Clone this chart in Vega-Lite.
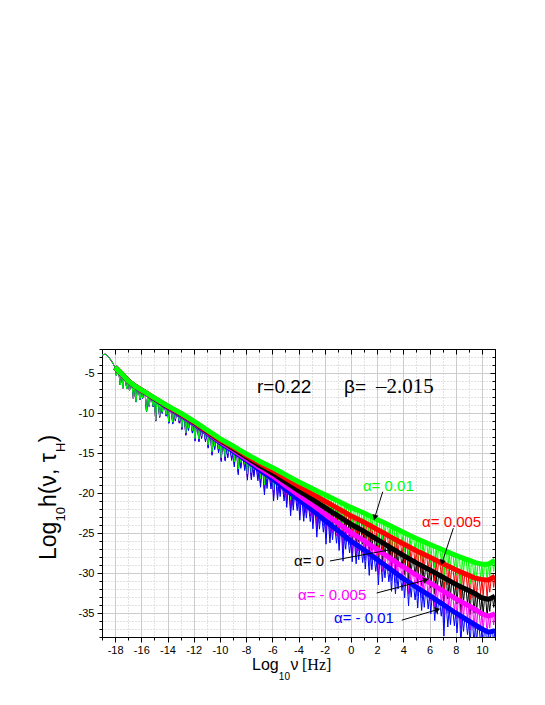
{
"$schema": "https://vega.github.io/schema/vega-lite/v6.json",
"width": 393, "height": 288,
"autosize": "none",
"padding": {"left": 102, "top": 349, "right": 50, "bottom": 68},
"background": "white",
"config": {"view": {"stroke": "black", "strokeWidth": 1}, "font": "Liberation Sans", "axis": {"labelFont": "Liberation Sans"}},
"datasets": {
"curves": [
{"x":-19,"p":0,"s5":-2.75,"s4":-2.75,"s3":-2.75,"s2":-2.75,"s1":-2.75},
{"x":-18.75,"p":0,"s5":-2.65,"s4":-2.65,"s3":-2.65,"s2":-2.65,"s1":-2.65},
{"x":-18.5,"p":0,"s5":-3.0,"s4":-3.0,"s3":-3.0,"s2":-3.0,"s1":-3.0},
{"x":-18.25,"p":0,"s5":-3.55,"s4":-3.55,"s3":-3.55,"s2":-3.55,"s1":-3.55},
{"x":-18,"p":0,"s5":-4.3,"s4":-4.3,"s3":-4.3,"s2":-4.3,"s1":-4.3},
{"x":-17.9,"p":1,"s5":-5.3,"s4":-5.3,"s3":-5.3,"s2":-5.3,"s1":-5.3},
{"x":-17.8,"p":2,"s5":-4.3,"s4":-4.3,"s3":-4.3,"s2":-4.3,"s1":-4.3},
{"x":-17.7,"p":2,"s5":-5.1,"s4":-5.1,"s3":-5.1,"s2":-5.1,"s1":-5.1},
{"x":-17.6,"p":1,"s5":-6.5,"s4":-6.5,"s3":-6.5,"s2":-6.5,"s1":-6.5},
{"x":-17.5,"p":0,"s5":-5.1,"s4":-5.1,"s3":-5.1,"s2":-5.1,"s1":-5.1},
{"x":-17.4,"p":1,"s5":-6.9,"s4":-6.9,"s3":-6.9,"s2":-6.9,"s1":-6.9},
{"x":-17.3,"p":2,"s5":-5.1,"s4":-5.1,"s3":-5.1,"s2":-5.1,"s1":-5.1},
{"x":-17.2,"p":2,"s5":-6.0,"s4":-6.0,"s3":-6.0,"s2":-6.0,"s1":-6.0},
{"x":-17.1,"p":1,"s5":-7.0,"s4":-7.0,"s3":-7.0,"s2":-7.0,"s1":-7.0},
{"x":-17,"p":0,"s5":-6.0,"s4":-6.0,"s3":-6.0,"s2":-6.0,"s1":-6.0},
{"x":-16.9,"p":1,"s5":-7.2,"s4":-7.2,"s3":-7.2,"s2":-7.2,"s1":-7.2},
{"x":-16.8,"p":2,"s5":-6.0,"s4":-6.0,"s3":-6.0,"s2":-6.0,"s1":-6.0},
{"x":-16.7,"p":2,"s5":-6.6,"s4":-6.61,"s3":-6.62,"s2":-6.63,"s1":-6.64},
{"x":-16.6,"p":1,"s5":-8.2,"s4":-8.21,"s3":-8.22,"s2":-8.23,"s1":-8.24},
{"x":-16.5,"p":0,"s5":-6.6,"s4":-6.61,"s3":-6.62,"s2":-6.63,"s1":-6.64},
{"x":-16.4,"p":1,"s5":-8.6,"s4":-8.61,"s3":-8.62,"s2":-8.63,"s1":-8.64},
{"x":-16.3,"p":2,"s5":-6.6,"s4":-6.61,"s3":-6.62,"s2":-6.63,"s1":-6.64},
{"x":-16.2,"p":2,"s5":-7.1,"s4":-7.12,"s3":-7.14,"s2":-7.16,"s1":-7.18},
{"x":-16.1,"p":1,"s5":-8.3,"s4":-8.32,"s3":-8.34,"s2":-8.36,"s1":-8.38},
{"x":-16,"p":0,"s5":-7.1,"s4":-7.12,"s3":-7.14,"s2":-7.16,"s1":-7.18},
{"x":-15.9,"p":1,"s5":-8.1,"s4":-8.12,"s3":-8.14,"s2":-8.16,"s1":-8.18},
{"x":-15.8,"p":2,"s5":-7.1,"s4":-7.12,"s3":-7.14,"s2":-7.16,"s1":-7.18},
{"x":-15.7,"p":2,"s5":-7.6,"s4":-7.62,"s3":-7.64,"s2":-7.66,"s1":-7.68},
{"x":-15.6,"p":1,"s5":-9.8,"s4":-9.82,"s3":-9.84,"s2":-9.86,"s1":-9.88},
{"x":-15.5,"p":0,"s5":-7.6,"s4":-7.62,"s3":-7.64,"s2":-7.66,"s1":-7.68},
{"x":-15.4,"p":1,"s5":-9.1,"s4":-9.12,"s3":-9.14,"s2":-9.16,"s1":-9.18},
{"x":-15.3,"p":2,"s5":-7.6,"s4":-7.62,"s3":-7.64,"s2":-7.66,"s1":-7.68},
{"x":-15.2,"p":2,"s5":-8.1,"s4":-8.13,"s3":-8.16,"s2":-8.19,"s1":-8.22},
{"x":-15.1,"p":1,"s5":-9.1,"s4":-9.13,"s3":-9.16,"s2":-9.19,"s1":-9.22},
{"x":-15,"p":0,"s5":-8.1,"s4":-8.13,"s3":-8.16,"s2":-8.19,"s1":-8.22},
{"x":-14.9,"p":1,"s5":-10.9,"s4":-10.93,"s3":-10.96,"s2":-10.99,"s1":-11.02},
{"x":-14.8,"p":2,"s5":-8.1,"s4":-8.13,"s3":-8.16,"s2":-8.19,"s1":-8.22},
{"x":-14.7,"p":2,"s5":-8.6,"s4":-8.64,"s3":-8.68,"s2":-8.72,"s1":-8.76},
{"x":-14.6,"p":1,"s5":-10.4,"s4":-10.44,"s3":-10.48,"s2":-10.52,"s1":-10.56},
{"x":-14.5,"p":0,"s5":-8.6,"s4":-8.64,"s3":-8.68,"s2":-8.72,"s1":-8.76},
{"x":-14.4,"p":1,"s5":-9.9,"s4":-9.94,"s3":-9.98,"s2":-10.02,"s1":-10.06},
{"x":-14.3,"p":2,"s5":-8.6,"s4":-8.64,"s3":-8.68,"s2":-8.72,"s1":-8.76},
{"x":-14.2,"p":2,"s5":-9.1,"s4":-9.15,"s3":-9.2,"s2":-9.25,"s1":-9.3},
{"x":-14.1,"p":1,"s5":-10.2,"s4":-10.25,"s3":-10.3,"s2":-10.35,"s1":-10.4},
{"x":-14,"p":0,"s5":-9.1,"s4":-9.15,"s3":-9.2,"s2":-9.25,"s1":-9.3},
{"x":-13.9,"p":1,"s5":-11.1,"s4":-11.15,"s3":-11.2,"s2":-11.25,"s1":-11.3},
{"x":-13.8,"p":2,"s5":-9.1,"s4":-9.15,"s3":-9.2,"s2":-9.25,"s1":-9.3},
{"x":-13.7,"p":2,"s5":-9.55,"s4":-9.61,"s3":-9.67,"s2":-9.73,"s1":-9.79},
{"x":-13.6,"p":1,"s5":-11.15,"s4":-11.21,"s3":-11.27,"s2":-11.33,"s1":-11.39},
{"x":-13.5,"p":0,"s5":-9.55,"s4":-9.61,"s3":-9.67,"s2":-9.73,"s1":-9.79},
{"x":-13.4,"p":1,"s5":-10.75,"s4":-10.81,"s3":-10.87,"s2":-10.93,"s1":-10.99},
{"x":-13.3,"p":2,"s5":-9.55,"s4":-9.61,"s3":-9.67,"s2":-9.73,"s1":-9.79},
{"x":-13.2,"p":2,"s5":-10,"s4":-10.07,"s3":-10.14,"s2":-10.21,"s1":-10.28},
{"x":-13.1,"p":1,"s5":-11,"s4":-11.07,"s3":-11.14,"s2":-11.21,"s1":-11.28},
{"x":-13,"p":0,"s5":-10,"s4":-10.07,"s3":-10.14,"s2":-10.21,"s1":-10.28},
{"x":-12.9,"p":1,"s5":-11.8,"s4":-11.87,"s3":-11.94,"s2":-12.01,"s1":-12.08},
{"x":-12.8,"p":2,"s5":-10,"s4":-10.07,"s3":-10.14,"s2":-10.21,"s1":-10.28},
{"x":-12.7,"p":2,"s5":-10.5,"s4":-10.58,"s3":-10.65,"s2":-10.73,"s1":-10.8},
{"x":-12.6,"p":1,"s5":-12.5,"s4":-12.58,"s3":-12.65,"s2":-12.73,"s1":-12.8},
{"x":-12.5,"p":0,"s5":-10.5,"s4":-10.58,"s3":-10.65,"s2":-10.73,"s1":-10.8},
{"x":-12.4,"p":1,"s5":-11.9,"s4":-11.98,"s3":-12.05,"s2":-12.13,"s1":-12.2},
{"x":-12.3,"p":2,"s5":-10.5,"s4":-10.58,"s3":-10.65,"s2":-10.73,"s1":-10.8},
{"x":-12.2,"p":2,"s5":-11,"s4":-11.08,"s3":-11.16,"s2":-11.24,"s1":-11.32},
{"x":-12.1,"p":1,"s5":-12.2,"s4":-12.28,"s3":-12.36,"s2":-12.44,"s1":-12.52},
{"x":-12,"p":0,"s5":-11,"s4":-11.08,"s3":-11.16,"s2":-11.24,"s1":-11.32},
{"x":-11.9,"p":1,"s5":-13.2,"s4":-13.28,"s3":-13.36,"s2":-13.44,"s1":-13.52},
{"x":-11.8,"p":2,"s5":-11,"s4":-11.08,"s3":-11.16,"s2":-11.24,"s1":-11.32},
{"x":-11.7,"p":2,"s5":-11.55,"s4":-11.64,"s3":-11.73,"s2":-11.82,"s1":-11.91},
{"x":-11.6,"p":1,"s5":-13.25,"s4":-13.34,"s3":-13.43,"s2":-13.52,"s1":-13.61},
{"x":-11.5,"p":0,"s5":-11.55,"s4":-11.64,"s3":-11.73,"s2":-11.82,"s1":-11.91},
{"x":-11.4,"p":1,"s5":-12.85,"s4":-12.94,"s3":-13.03,"s2":-13.12,"s1":-13.21},
{"x":-11.3,"p":2,"s5":-11.55,"s4":-11.64,"s3":-11.73,"s2":-11.82,"s1":-11.91},
{"x":-11.2,"p":2,"s5":-12.1,"s4":-12.2,"s3":-12.3,"s2":-12.4,"s1":-12.5},
{"x":-11.1,"p":1,"s5":-13.2,"s4":-13.3,"s3":-13.4,"s2":-13.5,"s1":-13.6},
{"x":-11,"p":0,"s5":-12.1,"s4":-12.2,"s3":-12.3,"s2":-12.4,"s1":-12.5},
{"x":-10.9,"p":1,"s5":-14,"s4":-14.1,"s3":-14.2,"s2":-14.3,"s1":-14.4},
{"x":-10.8,"p":2,"s5":-12.1,"s4":-12.2,"s3":-12.3,"s2":-12.4,"s1":-12.5},
{"x":-10.7,"p":2,"s5":-12.65,"s4":-12.76,"s3":-12.87,"s2":-12.98,"s1":-13.09},
{"x":-10.6,"p":1,"s5":-14.85,"s4":-14.96,"s3":-15.07,"s2":-15.18,"s1":-15.29},
{"x":-10.5,"p":0,"s5":-12.65,"s4":-12.76,"s3":-12.87,"s2":-12.98,"s1":-13.09},
{"x":-10.4,"p":1,"s5":-14.15,"s4":-14.26,"s3":-14.37,"s2":-14.48,"s1":-14.59},
{"x":-10.3,"p":2,"s5":-12.65,"s4":-12.76,"s3":-12.87,"s2":-12.98,"s1":-13.09},
{"x":-10.2,"p":2,"s5":-13.2,"s4":-13.32,"s3":-13.44,"s2":-13.56,"s1":-13.68},
{"x":-10.1,"p":1,"s5":-14.5,"s4":-14.62,"s3":-14.74,"s2":-14.86,"s1":-14.98},
{"x":-10,"p":0,"s5":-13.2,"s4":-13.32,"s3":-13.44,"s2":-13.56,"s1":-13.68},
{"x":-9.9,"p":1,"s5":-15.6,"s4":-15.72,"s3":-15.84,"s2":-15.96,"s1":-16.08},
{"x":-9.8,"p":2,"s5":-13.2,"s4":-13.32,"s3":-13.44,"s2":-13.56,"s1":-13.68},
{"x":-9.7,"p":2,"s5":-13.65,"s4":-13.79,"s3":-13.93,"s2":-14.07,"s1":-14.21},
{"x":-9.6,"p":1,"s5":-15.45,"s4":-15.59,"s3":-15.73,"s2":-15.87,"s1":-16.01},
{"x":-9.5,"p":0,"s5":-13.65,"s4":-13.79,"s3":-13.93,"s2":-14.07,"s1":-14.21},
{"x":-9.4,"p":1,"s5":-15.05,"s4":-15.19,"s3":-15.33,"s2":-15.47,"s1":-15.61},
{"x":-9.3,"p":2,"s5":-13.65,"s4":-13.79,"s3":-13.93,"s2":-14.07,"s1":-14.21},
{"x":-9.2,"p":2,"s5":-14.1,"s4":-14.26,"s3":-14.42,"s2":-14.58,"s1":-14.74},
{"x":-9.1,"p":1,"s5":-15.3,"s4":-15.46,"s3":-15.62,"s2":-15.78,"s1":-15.94},
{"x":-9,"p":0,"s5":-14.1,"s4":-14.26,"s3":-14.42,"s2":-14.58,"s1":-14.74},
{"x":-8.9,"p":1,"s5":-16.1,"s4":-16.26,"s3":-16.42,"s2":-16.58,"s1":-16.74},
{"x":-8.8,"p":2,"s5":-14.1,"s4":-14.26,"s3":-14.42,"s2":-14.58,"s1":-14.74},
{"x":-8.7,"p":2,"s5":-14.6,"s4":-14.78,"s3":-14.96,"s2":-15.14,"s1":-15.32},
{"x":-8.6,"p":1,"s5":-17,"s4":-17.18,"s3":-17.36,"s2":-17.54,"s1":-17.72},
{"x":-8.5,"p":0,"s5":-14.6,"s4":-14.78,"s3":-14.96,"s2":-15.14,"s1":-15.32},
{"x":-8.4,"p":1,"s5":-16.2,"s4":-16.38,"s3":-16.56,"s2":-16.74,"s1":-16.92},
{"x":-8.3,"p":2,"s5":-14.6,"s4":-14.78,"s3":-14.96,"s2":-15.14,"s1":-15.32},
{"x":-8.2,"p":2,"s5":-15.1,"s4":-15.3,"s3":-15.5,"s2":-15.7,"s1":-15.9},
{"x":-8.1,"p":1,"s5":-16.4,"s4":-16.6,"s3":-16.8,"s2":-17,"s1":-17.2},
{"x":-8,"p":0,"s5":-15.1,"s4":-15.3,"s3":-15.5,"s2":-15.7,"s1":-15.9},
{"x":-7.9,"p":1,"s5":-17.6,"s4":-17.8,"s3":-18,"s2":-18.2,"s1":-18.4},
{"x":-7.8,"p":2,"s5":-15.1,"s4":-15.3,"s3":-15.5,"s2":-15.7,"s1":-15.9},
{"x":-7.7,"p":2,"s5":-15.55,"s4":-15.78,"s3":-16.01,"s2":-16.24,"s1":-16.47},
{"x":-7.6,"p":1,"s5":-17.45,"s4":-17.68,"s3":-17.91,"s2":-18.14,"s1":-18.37},
{"x":-7.5,"p":0,"s5":-15.55,"s4":-15.78,"s3":-16.01,"s2":-16.24,"s1":-16.47},
{"x":-7.4,"p":1,"s5":-17.05,"s4":-17.28,"s3":-17.51,"s2":-17.74,"s1":-17.97},
{"x":-7.3,"p":2,"s5":-15.55,"s4":-15.78,"s3":-16.01,"s2":-16.24,"s1":-16.47},
{"x":-7.2,"p":2,"s5":-16,"s4":-16.27,"s3":-16.54,"s2":-16.81,"s1":-17.08},
{"x":-7.1,"p":1,"s5":-17.4,"s4":-17.67,"s3":-17.94,"s2":-18.21,"s1":-18.48},
{"x":-7,"p":0,"s5":-16,"s4":-16.27,"s3":-16.54,"s2":-16.81,"s1":-17.08},
{"x":-6.9,"p":1,"s5":-18.2,"s4":-18.47,"s3":-18.74,"s2":-19.01,"s1":-19.28},
{"x":-6.8,"p":2,"s5":-16,"s4":-16.27,"s3":-16.54,"s2":-16.81,"s1":-17.08},
{"x":-6.7,"p":2,"s5":-16.4,"s4":-16.71,"s3":-17.02,"s2":-17.33,"s1":-17.64},
{"x":-6.6,"p":1,"s5":-19,"s4":-19.31,"s3":-19.62,"s2":-19.93,"s1":-20.24},
{"x":-6.5,"p":0,"s5":-16.4,"s4":-16.71,"s3":-17.02,"s2":-17.33,"s1":-17.64},
{"x":-6.4,"p":1,"s5":-18.2,"s4":-18.51,"s3":-18.82,"s2":-19.13,"s1":-19.44},
{"x":-6.3,"p":2,"s5":-16.4,"s4":-16.71,"s3":-17.02,"s2":-17.33,"s1":-17.64},
{"x":-6.2,"p":2,"s5":-16.8,"s4":-17.15,"s3":-17.5,"s2":-17.85,"s1":-18.2},
{"x":-6.1,"p":1,"s5":-18.1,"s4":-18.45,"s3":-18.8,"s2":-19.15,"s1":-19.5},
{"x":-6,"p":0,"s5":-16.8,"s4":-17.15,"s3":-17.5,"s2":-17.85,"s1":-18.2},
{"x":-5.9,"p":1,"s5":-19.6,"s4":-19.95,"s3":-20.3,"s2":-20.65,"s1":-21},
{"x":-5.8,"p":2,"s5":-16.8,"s4":-17.15,"s3":-17.5,"s2":-17.85,"s1":-18.2},
{"x":-5.7,"p":2,"s5":-17.25,"s4":-17.65,"s3":-18.05,"s2":-18.45,"s1":-18.85},
{"x":-5.6,"p":1,"s5":-19.25,"s4":-19.65,"s3":-20.05,"s2":-20.45,"s1":-20.85},
{"x":-5.5,"p":0,"s5":-17.25,"s4":-17.65,"s3":-18.05,"s2":-18.45,"s1":-18.85},
{"x":-5.4,"p":1,"s5":-18.85,"s4":-19.25,"s3":-19.65,"s2":-20.05,"s1":-20.45},
{"x":-5.3,"p":2,"s5":-17.25,"s4":-17.65,"s3":-18.05,"s2":-18.45,"s1":-18.85},
{"x":-5.2,"p":2,"s5":-17.7,"s4":-18.15,"s3":-18.6,"s2":-19.05,"s1":-19.5},
{"x":-5.1,"p":1,"s5":-19.2,"s4":-19.65,"s3":-20.1,"s2":-20.55,"s1":-21},
{"x":-5,"p":0,"s5":-17.7,"s4":-18.15,"s3":-18.6,"s2":-19.05,"s1":-19.5},
{"x":-4.9,"p":1,"s5":-20,"s4":-20.45,"s3":-20.9,"s2":-21.35,"s1":-21.8},
{"x":-4.8,"p":2,"s5":-17.7,"s4":-18.15,"s3":-18.6,"s2":-19.05,"s1":-19.5},
{"x":-4.7,"p":2,"s5":-18.15,"s4":-18.65,"s3":-19.15,"s2":-19.65,"s1":-20.15},
{"x":-4.6,"p":1,"s5":-20.85,"s4":-21.35,"s3":-21.85,"s2":-22.35,"s1":-22.85},
{"x":-4.5,"p":0,"s5":-18.15,"s4":-18.65,"s3":-19.15,"s2":-19.65,"s1":-20.15},
{"x":-4.4,"p":1,"s5":-20.15,"s4":-20.65,"s3":-21.15,"s2":-21.65,"s1":-22.15},
{"x":-4.3,"p":2,"s5":-18.15,"s4":-18.65,"s3":-19.15,"s2":-19.65,"s1":-20.15},
{"x":-4.2,"p":2,"s5":-18.6,"s4":-19.15,"s3":-19.7,"s2":-20.25,"s1":-20.8},
{"x":-4.1,"p":1,"s5":-20,"s4":-20.55,"s3":-21.1,"s2":-21.65,"s1":-22.2},
{"x":-4,"p":0,"s5":-18.6,"s4":-19.15,"s3":-19.7,"s2":-20.25,"s1":-20.8},
{"x":-3.9,"p":1,"s5":-21.2,"s4":-21.75,"s3":-22.3,"s2":-22.85,"s1":-23.4},
{"x":-3.8,"p":2,"s5":-18.6,"s4":-19.15,"s3":-19.7,"s2":-20.25,"s1":-20.8},
{"x":-3.7,"p":2,"s5":-19,"s4":-19.61,"s3":-20.22,"s2":-20.83,"s1":-21.44},
{"x":-3.6,"p":1,"s5":-21.1,"s4":-21.71,"s3":-22.32,"s2":-22.93,"s1":-23.54},
{"x":-3.5,"p":0,"s5":-19,"s4":-19.61,"s3":-20.22,"s2":-20.83,"s1":-21.44},
{"x":-3.4,"p":1,"s5":-20.7,"s4":-21.31,"s3":-21.92,"s2":-22.53,"s1":-23.14},
{"x":-3.3,"p":2,"s5":-19,"s4":-19.61,"s3":-20.22,"s2":-20.83,"s1":-21.44},
{"x":-3.2,"p":2,"s5":-19.4,"s4":-20.07,"s3":-20.74,"s2":-21.41,"s1":-22.08},
{"x":-3.1,"p":1,"s5":-20.9,"s4":-21.57,"s3":-22.24,"s2":-22.91,"s1":-23.58},
{"x":-3,"p":0,"s5":-19.4,"s4":-20.07,"s3":-20.74,"s2":-21.41,"s1":-22.08},
{"x":-2.9,"p":1,"s5":-21.8,"s4":-22.47,"s3":-23.14,"s2":-23.81,"s1":-24.48},
{"x":-2.8,"p":2,"s5":-19.4,"s4":-20.07,"s3":-20.74,"s2":-21.41,"s1":-22.08},
{"x":-2.7,"p":2,"s5":-19.8,"s4":-20.53,"s3":-21.26,"s2":-21.99,"s1":-22.72},
{"x":-2.6,"p":1,"s5":-22.6,"s4":-23.33,"s3":-24.06,"s2":-24.79,"s1":-25.52},
{"x":-2.5,"p":0,"s5":-19.8,"s4":-20.53,"s3":-21.26,"s2":-21.99,"s1":-22.72},
{"x":-2.4,"p":1,"s5":-21.6,"s4":-22.33,"s3":-23.06,"s2":-23.79,"s1":-24.52},
{"x":-2.3,"p":2,"s5":-19.8,"s4":-20.53,"s3":-21.26,"s2":-21.99,"s1":-22.72},
{"x":-2.2,"p":2,"s5":-20.2,"s4":-21,"s3":-21.8,"s2":-22.6,"s1":-23.4},
{"x":-2.1,"p":1,"s5":-21.7,"s4":-22.5,"s3":-23.3,"s2":-24.1,"s1":-24.9},
{"x":-2,"p":0,"s5":-20.2,"s4":-21,"s3":-21.8,"s2":-22.6,"s1":-23.4},
{"x":-1.9,"p":1,"s5":-23.2,"s4":-24,"s3":-24.8,"s2":-25.6,"s1":-26.4},
{"x":-1.8,"p":2,"s5":-20.2,"s4":-21,"s3":-21.8,"s2":-22.6,"s1":-23.4},
{"x":-1.7,"p":2,"s5":-20.6,"s4":-21.46,"s3":-22.32,"s2":-23.18,"s1":-24.04},
{"x":-1.6,"p":1,"s5":-22.8,"s4":-23.66,"s3":-24.52,"s2":-25.38,"s1":-26.24},
{"x":-1.5,"p":0,"s5":-20.6,"s4":-21.46,"s3":-22.32,"s2":-23.18,"s1":-24.04},
{"x":-1.4,"p":1,"s5":-22.4,"s4":-23.26,"s3":-24.12,"s2":-24.98,"s1":-25.84},
{"x":-1.3,"p":2,"s5":-20.6,"s4":-21.46,"s3":-22.32,"s2":-23.18,"s1":-24.04},
{"x":-1.2,"p":2,"s5":-21,"s4":-21.92,"s3":-22.84,"s2":-23.76,"s1":-24.68},
{"x":-1.1,"p":1,"s5":-22.6,"s4":-23.52,"s3":-24.44,"s2":-25.36,"s1":-26.28},
{"x":-1,"p":0,"s5":-21,"s4":-21.92,"s3":-22.84,"s2":-23.76,"s1":-24.68},
{"x":-0.9,"p":1,"s5":-23.5,"s4":-24.42,"s3":-25.34,"s2":-26.26,"s1":-27.18},
{"x":-0.8,"p":2,"s5":-21,"s4":-21.92,"s3":-22.84,"s2":-23.76,"s1":-24.68},
{"x":-0.7,"p":2,"s5":-21.4,"s4":-22.38,"s3":-23.36,"s2":-24.34,"s1":-25.32},
{"x":-0.6,"p":1,"s5":-24.6,"s4":-25.58,"s3":-26.56,"s2":-27.54,"s1":-28.52},
{"x":-0.5,"p":0,"s5":-21.4,"s4":-22.38,"s3":-23.36,"s2":-24.34,"s1":-25.32},
{"x":-0.4,"p":1,"s5":-23.1,"s4":-24.08,"s3":-25.06,"s2":-26.04,"s1":-27.02},
{"x":-0.3,"p":2,"s5":-21.4,"s4":-22.38,"s3":-23.36,"s2":-24.34,"s1":-25.32},
{"x":-0.2,"p":2,"s5":-21.8,"s4":-22.85,"s3":-23.9,"s2":-24.95,"s1":-26},
{"x":-0.1,"p":1,"s5":-23.3,"s4":-24.35,"s3":-25.4,"s2":-26.45,"s1":-27.5},
{"x":0,"p":0,"s5":-21.8,"s4":-22.85,"s3":-23.9,"s2":-24.95,"s1":-26},
{"x":0.1,"p":1,"s5":-24.4,"s4":-25.45,"s3":-26.5,"s2":-27.55,"s1":-28.6},
{"x":0.2,"p":2,"s5":-21.8,"s4":-22.85,"s3":-23.9,"s2":-24.95,"s1":-26},
{"x":0.3,"p":2,"s5":-22.15,"s4":-23.25,"s3":-24.35,"s2":-25.45,"s1":-26.55},
{"x":0.4,"p":1,"s5":-24.45,"s4":-25.55,"s3":-26.65,"s2":-27.75,"s1":-28.85},
{"x":0.5,"p":0,"s5":-22.15,"s4":-23.25,"s3":-24.35,"s2":-25.45,"s1":-26.55},
{"x":0.6,"p":1,"s5":-23.95,"s4":-25.05,"s3":-26.15,"s2":-27.25,"s1":-28.35},
{"x":0.7,"p":2,"s5":-22.15,"s4":-23.25,"s3":-24.35,"s2":-25.45,"s1":-26.55},
{"x":0.8,"p":2,"s5":-22.5,"s4":-23.65,"s3":-24.8,"s2":-25.95,"s1":-27.1},
{"x":0.9,"p":1,"s5":-24.1,"s4":-25.25,"s3":-26.4,"s2":-27.55,"s1":-28.7},
{"x":1,"p":0,"s5":-22.5,"s4":-23.65,"s3":-24.8,"s2":-25.95,"s1":-27.1},
{"x":1.1,"p":1,"s5":-24.9,"s4":-26.05,"s3":-27.2,"s2":-28.35,"s1":-29.5},
{"x":1.2,"p":2,"s5":-22.5,"s4":-23.65,"s3":-24.8,"s2":-25.95,"s1":-27.1},
{"x":1.3,"p":2,"s5":-22.9,"s4":-24.1,"s3":-25.3,"s2":-26.5,"s1":-27.7},
{"x":1.4,"p":1,"s5":-25.5,"s4":-26.7,"s3":-27.9,"s2":-29.1,"s1":-30.3},
{"x":1.5,"p":0,"s5":-22.9,"s4":-24.1,"s3":-25.3,"s2":-26.5,"s1":-27.7},
{"x":1.6,"p":1,"s5":-24.8,"s4":-26,"s3":-27.2,"s2":-28.4,"s1":-29.6},
{"x":1.7,"p":2,"s5":-22.9,"s4":-24.1,"s3":-25.3,"s2":-26.5,"s1":-27.7},
{"x":1.8,"p":2,"s5":-23.3,"s4":-24.55,"s3":-25.8,"s2":-27.05,"s1":-28.3},
{"x":1.9,"p":1,"s5":-24.8,"s4":-26.05,"s3":-27.3,"s2":-28.55,"s1":-29.8},
{"x":2,"p":0,"s5":-23.3,"s4":-24.55,"s3":-25.8,"s2":-27.05,"s1":-28.3},
{"x":2.1,"p":1,"s5":-26.5,"s4":-27.75,"s3":-29,"s2":-30.25,"s1":-31.5},
{"x":2.2,"p":2,"s5":-23.3,"s4":-24.55,"s3":-25.8,"s2":-27.05,"s1":-28.3},
{"x":2.3,"p":2,"s5":-23.7,"s4":-25,"s3":-26.3,"s2":-27.6,"s1":-28.9},
{"x":2.4,"p":1,"s5":-25.9,"s4":-27.2,"s3":-28.5,"s2":-29.8,"s1":-31.1},
{"x":2.5,"p":0,"s5":-23.7,"s4":-25,"s3":-26.3,"s2":-27.6,"s1":-28.9},
{"x":2.6,"p":1,"s5":-25.4,"s4":-26.7,"s3":-28,"s2":-29.3,"s1":-30.6},
{"x":2.7,"p":2,"s5":-23.7,"s4":-25,"s3":-26.3,"s2":-27.6,"s1":-28.9},
{"x":2.8,"p":2,"s5":-24.1,"s4":-25.45,"s3":-26.8,"s2":-28.15,"s1":-29.5},
{"x":2.9,"p":1,"s5":-25.7,"s4":-27.05,"s3":-28.4,"s2":-29.75,"s1":-31.1},
{"x":3,"p":0,"s5":-24.1,"s4":-25.45,"s3":-26.8,"s2":-28.15,"s1":-29.5},
{"x":3.1,"p":1,"s5":-26.9,"s4":-28.25,"s3":-29.6,"s2":-30.95,"s1":-32.3},
{"x":3.2,"p":2,"s5":-24.1,"s4":-25.45,"s3":-26.8,"s2":-28.15,"s1":-29.5},
{"x":3.3,"p":2,"s5":-24.5,"s4":-25.9,"s3":-27.3,"s2":-28.7,"s1":-30.1},
{"x":3.4,"p":1,"s5":-27,"s4":-28.4,"s3":-29.8,"s2":-31.2,"s1":-32.6},
{"x":3.5,"p":0,"s5":-24.5,"s4":-25.9,"s3":-27.3,"s2":-28.7,"s1":-30.1},
{"x":3.6,"p":1,"s5":-26.4,"s4":-27.8,"s3":-29.2,"s2":-30.6,"s1":-32},
{"x":3.7,"p":2,"s5":-24.5,"s4":-25.9,"s3":-27.3,"s2":-28.7,"s1":-30.1},
{"x":3.8,"p":2,"s5":-24.9,"s4":-26.35,"s3":-27.8,"s2":-29.25,"s1":-30.7},
{"x":3.9,"p":1,"s5":-26.4,"s4":-27.85,"s3":-29.3,"s2":-30.75,"s1":-32.2},
{"x":4,"p":0,"s5":-24.9,"s4":-26.35,"s3":-27.8,"s2":-29.25,"s1":-30.7},
{"x":4.1,"p":1,"s5":-27.3,"s4":-28.75,"s3":-30.2,"s2":-31.65,"s1":-33.1},
{"x":4.2,"p":2,"s5":-24.9,"s4":-26.35,"s3":-27.8,"s2":-29.25,"s1":-30.7},
{"x":4.3,"p":2,"s5":-25.3,"s4":-26.78,"s3":-28.26,"s2":-29.74,"s1":-31.22},
{"x":4.4,"p":1,"s5":-28.2,"s4":-29.68,"s3":-31.16,"s2":-32.64,"s1":-34.12},
{"x":4.5,"p":0,"s5":-25.3,"s4":-26.78,"s3":-28.26,"s2":-29.74,"s1":-31.22},
{"x":4.6,"p":1,"s5":-27.1,"s4":-28.58,"s3":-30.06,"s2":-31.54,"s1":-33.02},
{"x":4.7,"p":2,"s5":-25.3,"s4":-26.78,"s3":-28.26,"s2":-29.74,"s1":-31.22},
{"x":4.8,"p":2,"s5":-25.7,"s4":-27.22,"s3":-28.74,"s2":-30.26,"s1":-31.78},
{"x":4.9,"p":1,"s5":-27.3,"s4":-28.82,"s3":-30.34,"s2":-31.86,"s1":-33.38},
{"x":5,"p":0,"s5":-25.7,"s4":-27.22,"s3":-28.74,"s2":-30.26,"s1":-31.78},
{"x":5.1,"p":1,"s5":-28.3,"s4":-29.82,"s3":-31.34,"s2":-32.86,"s1":-34.38},
{"x":5.2,"p":2,"s5":-25.7,"s4":-27.22,"s3":-28.74,"s2":-30.26,"s1":-31.78},
{"x":5.3,"p":2,"s5":-26.05,"s4":-27.61,"s3":-29.17,"s2":-30.73,"s1":-32.29},
{"x":5.4,"p":1,"s5":-28.45,"s4":-30.01,"s3":-31.57,"s2":-33.13,"s1":-34.69},
{"x":5.5,"p":0,"s5":-26.05,"s4":-27.61,"s3":-29.17,"s2":-30.73,"s1":-32.29},
{"x":5.6,"p":1,"s5":-28.05,"s4":-29.61,"s3":-31.17,"s2":-32.73,"s1":-34.29},
{"x":5.7,"p":2,"s5":-26.05,"s4":-27.61,"s3":-29.17,"s2":-30.73,"s1":-32.29},
{"x":5.8,"p":2,"s5":-26.4,"s4":-28,"s3":-29.6,"s2":-31.2,"s1":-32.8},
{"x":5.9,"p":1,"s5":-28.1,"s4":-29.7,"s3":-31.3,"s2":-32.9,"s1":-34.5},
{"x":6,"p":0,"s5":-26.4,"s4":-28,"s3":-29.6,"s2":-31.2,"s1":-32.8},
{"x":6.1,"p":1,"s5":-28.7,"s4":-30.3,"s3":-31.9,"s2":-33.5,"s1":-35.1},
{"x":6.2,"p":2,"s5":-26.4,"s4":-28,"s3":-29.6,"s2":-31.2,"s1":-32.8},
{"x":6.3,"p":2,"s5":-26.75,"s4":-28.4,"s3":-30.05,"s2":-31.7,"s1":-33.35},
{"x":6.4,"p":1,"s5":-29.35,"s4":-31,"s3":-32.65,"s2":-34.3,"s1":-35.95},
{"x":6.5,"p":0,"s5":-26.75,"s4":-28.4,"s3":-30.05,"s2":-31.7,"s1":-33.35},
{"x":6.6,"p":1,"s5":-28.55,"s4":-30.2,"s3":-31.85,"s2":-33.5,"s1":-35.15},
{"x":6.7,"p":2,"s5":-26.75,"s4":-28.4,"s3":-30.05,"s2":-31.7,"s1":-33.35},
{"x":6.8,"p":2,"s5":-27.1,"s4":-28.8,"s3":-30.5,"s2":-32.2,"s1":-33.9},
{"x":6.9,"p":1,"s5":-28.6,"s4":-30.3,"s3":-32,"s2":-33.7,"s1":-35.4},
{"x":7,"p":0,"s5":-27.1,"s4":-28.8,"s3":-30.5,"s2":-32.2,"s1":-33.9},
{"x":7.1,"p":1,"s5":-31.1,"s4":-32.8,"s3":-34.5,"s2":-36.2,"s1":-37.9},
{"x":7.2,"p":2,"s5":-27.1,"s4":-28.8,"s3":-30.5,"s2":-32.2,"s1":-33.9},
{"x":7.3,"p":2,"s5":-27.45,"s4":-29.2,"s3":-30.95,"s2":-32.7,"s1":-34.45},
{"x":7.4,"p":1,"s5":-29.75,"s4":-31.5,"s3":-33.25,"s2":-35,"s1":-36.75},
{"x":7.5,"p":0,"s5":-27.45,"s4":-29.2,"s3":-30.95,"s2":-32.7,"s1":-34.45},
{"x":7.6,"p":1,"s5":-29.45,"s4":-31.2,"s3":-32.95,"s2":-34.7,"s1":-36.45},
{"x":7.7,"p":2,"s5":-27.45,"s4":-29.2,"s3":-30.95,"s2":-32.7,"s1":-34.45},
{"x":7.8,"p":2,"s5":-27.8,"s4":-29.6,"s3":-31.4,"s2":-33.2,"s1":-35},
{"x":7.9,"p":1,"s5":-29.4,"s4":-31.2,"s3":-33,"s2":-34.8,"s1":-36.6},
{"x":8,"p":0,"s5":-27.8,"s4":-29.6,"s3":-31.4,"s2":-33.2,"s1":-35},
{"x":8.1,"p":1,"s5":-30.3,"s4":-32.1,"s3":-33.9,"s2":-35.7,"s1":-37.5},
{"x":8.2,"p":2,"s5":-27.8,"s4":-29.6,"s3":-31.4,"s2":-33.2,"s1":-35},
{"x":8.3,"p":2,"s5":-28.1,"s4":-29.95,"s3":-31.8,"s2":-33.65,"s1":-35.5},
{"x":8.4,"p":1,"s5":-31.4,"s4":-33.25,"s3":-35.1,"s2":-36.95,"s1":-38.8},
{"x":8.5,"p":0,"s5":-28.1,"s4":-29.95,"s3":-31.8,"s2":-33.65,"s1":-35.5},
{"x":8.6,"p":1,"s5":-29.9,"s4":-31.75,"s3":-33.6,"s2":-35.45,"s1":-37.3},
{"x":8.7,"p":2,"s5":-28.1,"s4":-29.95,"s3":-31.8,"s2":-33.65,"s1":-35.5},
{"x":8.8,"p":2,"s5":-28.4,"s4":-30.3,"s3":-32.2,"s2":-34.1,"s1":-36},
{"x":8.9,"p":1,"s5":-30.1,"s4":-32,"s3":-33.9,"s2":-35.8,"s1":-37.7},
{"x":9,"p":0,"s5":-28.4,"s4":-30.3,"s3":-32.2,"s2":-34.1,"s1":-36},
{"x":9.1,"p":1,"s5":-31.4,"s4":-33.3,"s3":-35.2,"s2":-37.1,"s1":-39},
{"x":9.2,"p":2,"s5":-28.4,"s4":-30.3,"s3":-32.2,"s2":-34.1,"s1":-36},
{"x":9.3,"p":2,"s5":-28.7,"s4":-30.65,"s3":-32.6,"s2":-34.55,"s1":-36.5},
{"x":9.4,"p":1,"s5":-31.1,"s4":-33.05,"s3":-35,"s2":-36.95,"s1":-38.9},
{"x":9.5,"p":0,"s5":-28.7,"s4":-30.65,"s3":-32.6,"s2":-34.55,"s1":-36.5},
{"x":9.6,"p":1,"s5":-30.9,"s4":-32.85,"s3":-34.8,"s2":-36.75,"s1":-38.7},
{"x":9.7,"p":2,"s5":-28.7,"s4":-30.65,"s3":-32.6,"s2":-34.55,"s1":-36.5},
{"x":9.8,"p":2,"s5":-28.9,"s4":-30.8,"s3":-33.1,"s2":-35.1,"s1":-37},
{"x":9.9,"p":1,"s5":-30.7,"s4":-32.6,"s3":-34.9,"s2":-36.9,"s1":-38.8},
{"x":10,"p":0,"s5":-28.9,"s4":-30.8,"s3":-33.1,"s2":-35.1,"s1":-37},
{"x":10.1,"p":1,"s5":-30.9,"s4":-32.8,"s3":-35.1,"s2":-37.1,"s1":-39},
{"x":10.2,"p":2,"s5":-28.9,"s4":-30.8,"s3":-33.1,"s2":-35.1,"s1":-37},
{"x":10.3,"p":2,"s5":-28.9,"s4":-30.9,"s3":-33.3,"s2":-35.4,"s1":-37.4},
{"x":10.4,"p":1,"s5":-31.1,"s4":-33.1,"s3":-35.5,"s2":-37.6,"s1":-39.6},
{"x":10.5,"p":0,"s5":-28.9,"s4":-30.9,"s3":-33.3,"s2":-35.4,"s1":-37.4},
{"x":10.6,"p":1,"s5":-30.4,"s4":-32.4,"s3":-34.8,"s2":-36.9,"s1":-38.9},
{"x":10.7,"p":2,"s5":-28.9,"s4":-30.9,"s3":-33.3,"s2":-35.4,"s1":-37.4},
{"x":10.8,"p":2,"s5":-28.4,"s4":-30.4,"s3":-32.9,"s2":-35.1,"s1":-37.2},
{"x":10.9,"p":1,"s5":-29.8,"s4":-31.8,"s3":-34.3,"s2":-36.5,"s1":-38.6},
{"x":11,"p":0,"s5":-28.4,"s4":-30.4,"s3":-32.9,"s2":-35.1,"s1":-37.2}
],
"ann": [
{"x":-22.51,"y":-28.375,"t":"Log","k":"ylab"},
{"x":-22.51,"y":-21.75,"t":"h(ν, τ","k":"ylab"},
{"x":-22.51,"y":-13.7,"t":")","k":"ylab"},
{"x":-21.82,"y":-23.575,"t":"10","k":"ysub"},
{"x":-21.82,"y":-14.875,"t":"H","k":"ysub"},
{"x":-7.55,"y":-42.1,"t":"Log","k":"xlab"},
{"x":-4.62,"y":-42.1,"t":"ν","k":"xlab"},
{"x":-5.5,"y":-43.4,"t":"10","k":"xsub"},
{"x":-3.73,"y":-42.1,"t":"[Hz]","k":"xhz"},
{"x":-7.17,"y":-7.5,"t":"r=0.22","k":"rr"},
{"x":-0.53,"y":-7.5,"t":"β=","k":"rr"},
{"x":1.92,"y":-7.5,"t":"–2.015","k":"bt"}
],
"alpha": [
{"x":0.92,"y":-19.1,"t":"α= 0.01","s":"s5"},
{"x":5.43,"y":-23.6,"t":"α= 0.005","s":"s4"},
{"x":-4.34,"y":-28.5,"t":"α= 0","s":"s3"},
{"x":-4.04,"y":-32.75,"t":"α= - 0.005","s":"s2"},
{"x":-1.29,"y":-35.6,"t":"α= - 0.01","s":"s1"}
],
"arrows": [
{"x":2.43,"y":-19.84,"x2":1.84,"y2":-22.96,"s":"s5"},
{"x":7.82,"y":-24.4,"x2":6.98,"y2":-28.6,"s":"s4"},
{"x":-1.6,"y":-28.5,"x2":2.98,"y2":-27.1,"s":"s3"},
{"x":1.97,"y":-32.5,"x2":5.66,"y2":-30.9,"s":"s2"},
{"x":3.88,"y":-35.9,"x2":6.55,"y2":-34.6,"s":"s1"}
]
},
"resolve": {"axis": {"x": "independent", "y": "independent"}},
"encoding": {
"x": {"field": "x", "type": "quantitative", "scale": {"domain": [-19, 11], "nice": false, "zero": false}, "axis": null},
"y": {"field": "y", "type": "quantitative", "scale": {"domain": [-38, -2], "nice": false, "zero": false}, "axis": null}
},
"layer": [
{
"data": {"name": "curves"},
"transform": [{"fold": ["s3","s4","s2","s1","s5"], "as": ["s","y"]}],
"mark": {"type": "line", "strokeWidth": 1, "clip": true},
"encoding": {
"x": {"field": "x", "type": "quantitative", "scale": {"domain": [-19, 11], "nice": false, "zero": false},
"axis": {"orient": "bottom", "zindex": 0, "values": [-19,-18,-17,-16,-15,-14,-13,-12,-11,-10,-9,-8,-7,-6,-5,-4,-3,-2,-1,0,1,2,3,4,5,6,7,8,9,10,11], "labelExpr": "datum.value % 2 == 0 ? '' + datum.value : ''", "labelFontSize": 11, "labelColor": "black", "labelPadding": 2, "labelFlush": false, "labelOverlap": false, "title": null, "grid": true, "gridColor": {"condition": {"test": "datum.value % 2 == 0", "value": "#cccccc"}, "value": "#c4c4c4"}, "gridDash": {"condition": {"test": "datum.value % 2 == 0", "value": []}, "value": [1, 2]}, "domainColor": "black", "tickColor": "black", "tickSize": {"condition": {"test": "datum.value % 2 == 0", "value": 5}, "value": 3}}},
"y": {"field": "y", "type": "quantitative", "scale": {"domain": [-38, -2], "nice": false, "zero": false},
"axis": {"orient": "left", "zindex": 0, "values": [-38,-37,-36,-35,-34,-33,-32,-31,-30,-29,-28,-27,-26,-25,-24,-23,-22,-21,-20,-19,-18,-17,-16,-15,-14,-13,-12,-11,-10,-9,-8,-7,-6,-5,-4,-3,-2], "labelExpr": "datum.value % 5 == 0 ? '' + datum.value : ''", "labelFontSize": 11, "labelColor": "black", "labelPadding": 3, "labelFlush": false, "labelOverlap": false, "title": null, "grid": true, "gridColor": {"condition": {"test": "datum.value % 5 == 0", "value": "#cccccc"}, "value": "#c4c4c4"}, "gridDash": {"condition": {"test": "datum.value % 5 == 0", "value": []}, "value": [1, 2]}, "domainColor": "black", "tickColor": "black", "tickSize": {"condition": {"test": "datum.value % 5 == 0", "value": 5}, "value": 3}}},
"color": {"field": "s", "type": "nominal", "scale": {"domain": ["s1","s2","s3","s4","s5"], "range": ["#0000FF","#FF00FF","#000000","#FF0000","#00FF00"]}, "legend": null}
}
},
{
"data": {"name": "curves"},
"transform": [{"filter": "datum.p == 0 && datum.x >= -18"}, {"fold": ["s1","s2","s3","s4","s5"], "as": ["s","y"]}],
"mark": {"type": "line", "strokeWidth": 5, "clip": true},
"encoding": {
"x": {"field": "x", "type": "quantitative", "scale": {"domain": [-19, 11], "nice": false, "zero": false},
"axis": {"orient": "top", "values": [-19,-18,-17,-16,-15,-14,-13,-12,-11,-10,-9,-8,-7,-6,-5,-4,-3,-2,-1,0,1,2,3,4,5,6,7,8,9,10,11], "labels": false, "title": null, "grid": false, "domainColor": "black", "tickColor": "black", "tickSize": {"condition": {"test": "datum.value % 2 == 0", "value": -5}, "value": -3}}},
"y": {"field": "y", "type": "quantitative", "scale": {"domain": [-38, -2], "nice": false, "zero": false},
"axis": {"orient": "right", "values": [-38,-37,-36,-35,-34,-33,-32,-31,-30,-29,-28,-27,-26,-25,-24,-23,-22,-21,-20,-19,-18,-17,-16,-15,-14,-13,-12,-11,-10,-9,-8,-7,-6,-5,-4,-3,-2], "labels": false, "title": null, "grid": false, "domainColor": "black", "tickColor": "black", "tickSize": {"condition": {"test": "datum.value % 5 == 0", "value": -5}, "value": -3}}},
"color": {"field": "s", "type": "nominal", "scale": {"domain": ["s1","s2","s3","s4","s5"], "range": ["#0000FF","#FF00FF","#000000","#FF0000","#00FF00"]}, "legend": null}
}
},
{
"data": {"name": "ann"},
"transform": [{"filter": "datum.k == 'ylab'"}],
"mark": {"type": "text", "angle": 270, "align": "left", "baseline": "alphabetic", "font": "Liberation Sans", "fontSize": 23, "color": "black"},
"encoding": {"text": {"field": "t"}}
},
{
"data": {"name": "ann"},
"transform": [{"filter": "datum.k == 'ysub'"}],
"mark": {"type": "text", "angle": 270, "align": "left", "baseline": "alphabetic", "font": "Liberation Sans", "fontSize": 13, "color": "black"},
"encoding": {"text": {"field": "t"}}
},
{
"data": {"name": "ann"},
"transform": [{"filter": "datum.k == 'xlab'"}],
"mark": {"type": "text", "align": "left", "baseline": "alphabetic", "font": "Liberation Sans", "fontSize": 16, "color": "black"},
"encoding": {"text": {"field": "t"}}
},
{
"data": {"name": "ann"},
"transform": [{"filter": "datum.k == 'xsub'"}],
"mark": {"type": "text", "align": "left", "baseline": "alphabetic", "font": "Liberation Sans", "fontSize": 10, "color": "black"},
"encoding": {"text": {"field": "t"}}
},
{
"data": {"name": "ann"},
"transform": [{"filter": "datum.k == 'xhz'"}],
"mark": {"type": "text", "align": "left", "baseline": "alphabetic", "font": "Liberation Serif", "fontSize": 16, "color": "black"},
"encoding": {"text": {"field": "t"}}
},
{
"data": {"name": "ann"},
"transform": [{"filter": "datum.k == 'rr'"}],
"mark": {"type": "text", "align": "left", "baseline": "alphabetic", "font": "Liberation Sans", "fontSize": 19, "color": "black"},
"encoding": {"text": {"field": "t"}}
},
{
"data": {"name": "ann"},
"transform": [{"filter": "datum.k == 'bt'"}],
"mark": {"type": "text", "align": "left", "baseline": "alphabetic", "font": "Liberation Serif", "fontSize": 21, "color": "black"},
"encoding": {"text": {"field": "t"}}
},
{
"data": {"name": "alpha"},
"mark": {"type": "text", "align": "left", "baseline": "middle", "font": "Liberation Sans", "fontSize": 15},
"encoding": {"text": {"field": "t"}, "color": {"field": "s", "type": "nominal", "scale": {"domain": ["s1","s2","s3","s4","s5"], "range": ["#0000FF","#FF00FF","#000000","#FF0000","#00FF00"]}, "legend": null}}
},
{
"data": {"name": "arrows"},
"mark": {"type": "rule", "color": "black", "strokeWidth": 1},
"encoding": {"x2": {"field": "x2"}, "y2": {"field": "y2"}}
},
{
"data": {"name": "arrows"},
"transform": [{"filter": "datum.s == 's5'"}],
"mark": {"type": "point", "shape": "triangle", "angle": 197, "filled": true, "color": "black", "size": 40, "opacity": 1},
"encoding": {"x": {"field": "x2", "type": "quantitative", "scale": {"domain": [-19, 11], "nice": false, "zero": false}, "axis": null}, "y": {"field": "y2", "type": "quantitative", "scale": {"domain": [-38, -2], "nice": false, "zero": false}, "axis": null}}
},
{
"data": {"name": "arrows"},
"transform": [{"filter": "datum.s == 's4'"}],
"mark": {"type": "point", "shape": "triangle", "angle": 198, "filled": true, "color": "black", "size": 40, "opacity": 1},
"encoding": {"x": {"field": "x2", "type": "quantitative", "scale": {"domain": [-19, 11], "nice": false, "zero": false}, "axis": null}, "y": {"field": "y2", "type": "quantitative", "scale": {"domain": [-38, -2], "nice": false, "zero": false}, "axis": null}}
},
{
"data": {"name": "arrows"},
"transform": [{"filter": "datum.s == 's3'"}],
"mark": {"type": "point", "shape": "triangle", "angle": 80, "filled": true, "color": "black", "size": 40, "opacity": 1},
"encoding": {"x": {"field": "x2", "type": "quantitative", "scale": {"domain": [-19, 11], "nice": false, "zero": false}, "axis": null}, "y": {"field": "y2", "type": "quantitative", "scale": {"domain": [-38, -2], "nice": false, "zero": false}, "axis": null}}
},
{
"data": {"name": "arrows"},
"transform": [{"filter": "datum.s == 's2'"}],
"mark": {"type": "point", "shape": "triangle", "angle": 75, "filled": true, "color": "black", "size": 40, "opacity": 1},
"encoding": {"x": {"field": "x2", "type": "quantitative", "scale": {"domain": [-19, 11], "nice": false, "zero": false}, "axis": null}, "y": {"field": "y2", "type": "quantitative", "scale": {"domain": [-38, -2], "nice": false, "zero": false}, "axis": null}}
},
{
"data": {"name": "arrows"},
"transform": [{"filter": "datum.s == 's1'"}],
"mark": {"type": "point", "shape": "triangle", "angle": 74, "filled": true, "color": "black", "size": 40, "opacity": 1},
"encoding": {"x": {"field": "x2", "type": "quantitative", "scale": {"domain": [-19, 11], "nice": false, "zero": false}, "axis": null}, "y": {"field": "y2", "type": "quantitative", "scale": {"domain": [-38, -2], "nice": false, "zero": false}, "axis": null}}
}
]
}
